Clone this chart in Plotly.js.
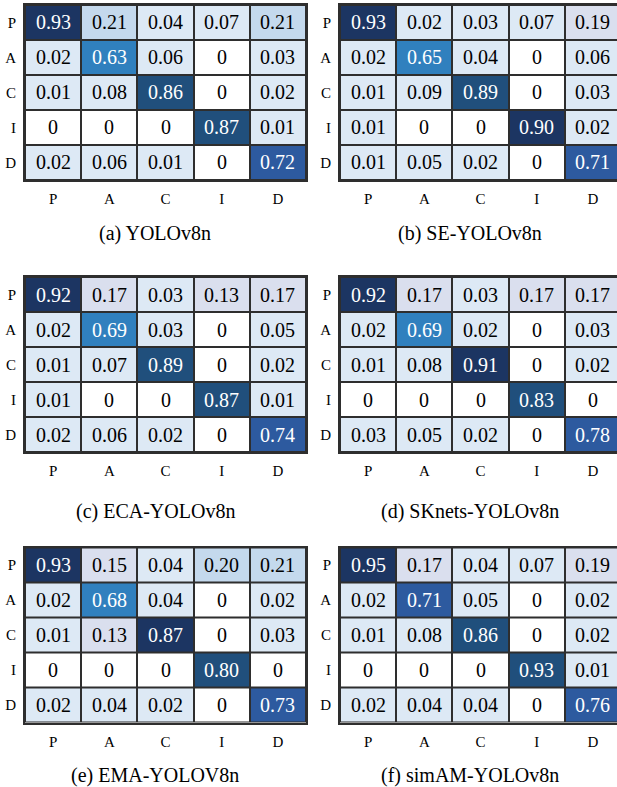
<!DOCTYPE html>
<html>
<head>
<meta charset="utf-8">
<script src="https://cdn.plot.ly/plotly-3.0.1.min.js"></script>
<style>
  html, body { margin: 0; padding: 0; background: #fff; overflow: hidden; }
  #chart { width: 625px; height: 787px; }
</style>
</head>
<body>
<div id="chart"></div>
<script>
// Class labels (rows = true, columns = predicted)
const classLabels = ['P', 'A', 'C', 'I', 'D'];

// Normalised confusion matrices, one per model
const yolov8n = [
  [0.93, 0.21, 0.04, 0.07, 0.21],
  [0.02, 0.63, 0.06, 0,    0.03],
  [0.01, 0.08, 0.86, 0,    0.02],
  [0,    0,    0,    0.87, 0.01],
  [0.02, 0.06, 0.01, 0,    0.72]
];
const seYolov8n = [
  [0.93, 0.02, 0.03, 0.07, 0.19],
  [0.02, 0.65, 0.04, 0,    0.06],
  [0.01, 0.09, 0.89, 0,    0.03],
  [0.01, 0,    0,    0.90, 0.02],
  [0.01, 0.05, 0.02, 0,    0.71]
];
const ecaYolov8n = [
  [0.92, 0.17, 0.03, 0.13, 0.17],
  [0.02, 0.69, 0.03, 0,    0.05],
  [0.01, 0.07, 0.89, 0,    0.02],
  [0.01, 0,    0,    0.87, 0.01],
  [0.02, 0.06, 0.02, 0,    0.74]
];
const sknetsYolov8n = [
  [0.92, 0.17, 0.03, 0.17, 0.17],
  [0.02, 0.69, 0.02, 0,    0.03],
  [0.01, 0.08, 0.91, 0,    0.02],
  [0,    0,    0,    0.83, 0],
  [0.03, 0.05, 0.02, 0,    0.78]
];
const emaYolov8n = [
  [0.93, 0.15, 0.04, 0.20, 0.21],
  [0.02, 0.68, 0.04, 0,    0.02],
  [0.01, 0.13, 0.87, 0,    0.03],
  [0,    0,    0,    0.80, 0],
  [0.02, 0.04, 0.02, 0,    0.73]
];
const simamYolov8n = [
  [0.95, 0.17, 0.04, 0.07, 0.19],
  [0.02, 0.71, 0.05, 0,    0.02],
  [0.01, 0.08, 0.86, 0,    0.02],
  [0,    0,    0,    0.93, 0.01],
  [0.02, 0.04, 0.04, 0,    0.76]
];

const captions = [
  '(a) YOLOv8n', '(b) SE-YOLOv8n',
  '(c) ECA-YOLOv8n', '(d) SKnets-YOLOv8n',
  '(e) EMA-YOLOV8n', '(f) simAM-YOLOv8n'
];

// ---- drawing ----
const W = 625, H = 787;
const matrices = [yolov8n, seYolov8n, ecaYolov8n, sknetsYolov8n, emaYolov8n, simamYolov8n];
// value at which each panel switches to its darkest shade
const navyFrom = [0.90, 0.895, 0.90, 0.87, 0.85, 0.94];

const SERIF = 'Liberation Serif';
const colLeft = [25, 340];
const rowTop = [5, 277, 547.5];
const plotW = 281, plotH = 175;
const captionX = [155, 470];
const captionY = [233, 511, 775];

function bands(navy) {
  return [
    [0, '#ffffff'], [0.005, '#ffffff'],
    [0.005, '#dde9f5'], [0.10, '#dde9f5'],
    [0.10, '#dadfee'], [0.195, '#dadfee'],
    [0.195, '#c4d9ed'], [0.5, '#c4d9ed'],
    [0.5, '#3080be'], [0.70, '#3080be'],
    [0.70, '#2d5a9f'], [0.795, '#2d5a9f'],
    [0.795, '#204f7c'], [navy, '#204f7c'],
    [navy, '#1c3562'], [1, '#1c3562']
  ];
}

const data = [];
const annotations = [];
const layout = {
  width: W, height: H,
  margin: {l: 0, r: 0, t: 0, b: 0},
  paper_bgcolor: '#ffffff',
  plot_bgcolor: '#2e2e2e',
  showlegend: false,
  font: {family: SERIF, color: '#000'},
  annotations: annotations
};

matrices.forEach((m, i) => {
  const col = i % 2, row = Math.floor(i / 2);
  const xa = 'x' + (i + 1), ya = 'y' + (i + 1);
  const left = colLeft[col], top = rowTop[row];
  data.push({
    type: 'heatmap',
    x: classLabels, y: classLabels, z: m,
    xaxis: xa, yaxis: ya,
    zmin: 0, zmax: 1,
    colorscale: bands(navyFrom[i]),
    showscale: false,
    xgap: 2, ygap: 2,
    hoverinfo: 'skip'
  });
  const axBase = {
    showgrid: false, zeroline: false,
    showline: true, mirror: true, linecolor: '#2e2e2e', linewidth: 2,
    ticks: '', fixedrange: true,
    tickfont: {family: SERIF, size: 15, color: '#000'}
  };
  layout['xaxis' + (i + 1)] = Object.assign({}, axBase, {
    anchor: ya,
    domain: [left / W, (left + plotW) / W],
    ticklabelstandoff: 4
  });
  layout['yaxis' + (i + 1)] = Object.assign({}, axBase, {
    anchor: xa,
    domain: [1 - (top + plotH) / H, 1 - top / H],
    autorange: 'reversed',
    ticklabelstandoff: 4
  });
  // cell values
  m.forEach((r, ri) => r.forEach((v, ci) => {
    annotations.push({
      xref: xa, yref: ya,
      x: classLabels[ci], y: classLabels[ri],
      text: v === 0 ? '0' : v.toFixed(2),
      showarrow: false,
      font: {family: SERIF, size: 20, color: v >= 0.5 ? '#ffffff' : '#000000'}
    });
  }));
  // panel caption
  annotations.push({
    xref: 'paper', yref: 'paper',
    x: captionX[col] / W, y: 1 - captionY[row] / H,
    xanchor: 'center', yanchor: 'middle',
    text: captions[i], showarrow: false,
    font: {family: SERIF, size: 20, color: '#000'}
  });
});

Plotly.newPlot('chart', data, layout, {staticPlot: true, displayModeBar: false});
</script>
</body>
</html>
